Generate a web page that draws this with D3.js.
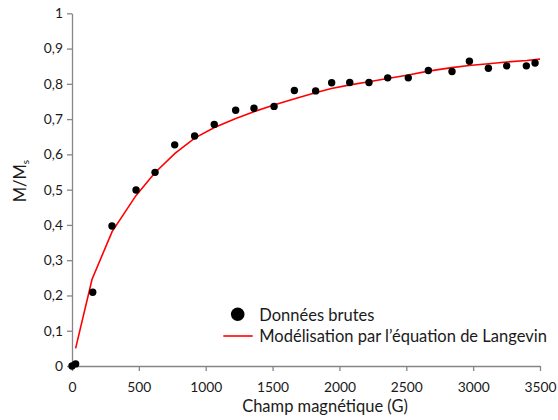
<!DOCTYPE html>
<html>
<head>
<meta charset="utf-8">
<script src="https://cdn.jsdelivr.net/npm/d3@7"></script>
<style>
  html, body { margin: 0; padding: 0; background: #fff; }
  svg { display: block; }
  text { font-family: "Lato", "Open Sans", sans-serif; fill: #1a1a1a; }
</style>
</head>
<body>
<svg id="chart" width="558" height="420"></svg>
<script>
// Raw data (Données brutes)
const dataX = [0, 27, 155, 299, 479, 621, 768, 917, 1064, 1224, 1361, 1511, 1663, 1822, 1942, 2077, 2221, 2361, 2515, 2665, 2842, 2972, 3114, 3251, 3398, 3463];
const dataY = [0, 0.006, 0.209, 0.397, 0.499, 0.549, 0.627, 0.652, 0.685, 0.725, 0.731, 0.736, 0.781, 0.780, 0.803, 0.804, 0.804, 0.817, 0.817, 0.838, 0.835, 0.864, 0.844, 0.851, 0.851, 0.859];

// Model curve (Modélisation par l'équation de Langevin)
const modelX = [27, 150, 300, 478, 620, 770, 920, 1065, 1225, 1360, 1510, 1665, 1820, 1940, 2080, 2220, 2360, 2515, 2665, 2840, 2970, 3115, 3250, 3400, 3500];
const modelY = [0.050, 0.246, 0.381, 0.483, 0.548, 0.603, 0.647, 0.676, 0.702, 0.721, 0.740, 0.758, 0.775, 0.787, 0.797, 0.806, 0.815, 0.825, 0.836, 0.846, 0.852, 0.857, 0.862, 0.866, 0.870];

// Ticks
const xTicks = [0, 500, 1000, 1500, 2000, 2500, 3000, 3500];
const yTicks = [0, 0.1, 0.2, 0.3, 0.4, 0.5, 0.6, 0.7, 0.8, 0.9, 1];
const yTickLabels = ["0", "0,1", "0,2", "0,3", "0,4", "0,5", "0,6", "0,7", "0,8", "0,9", "1"];

const seriesNames = ["Données brutes", "Modélisation par l\u2019équation de Langevin"];
const xTitle = "Champ magnétique (G)";

const svg = d3.select("#chart");
const x = d3.scaleLinear().domain([0, 3500]).range([72, 540]);
const y = d3.scaleLinear().domain([0, 1]).range([366, 13.3]);
const axisColor = "#868686";

// X axis
const gx = svg.append("g").attr("transform", `translate(0,${y(0)})`)
  .call(d3.axisBottom(x).tickValues(xTicks).tickSize(5).tickSizeOuter(0).tickPadding(11).tickFormat(d3.format("d")));
// Y axis
const gy = svg.append("g").attr("transform", `translate(${x(0)},0)`)
  .call(d3.axisLeft(y).tickValues(yTicks).tickSize(5).tickSizeOuter(0).tickPadding(4)
    .tickFormat((d, i) => yTickLabels[i]));

[gx, gy].forEach(g => {
  g.select(".domain").attr("stroke", axisColor).attr("stroke-width", 1.3);
  g.selectAll(".tick line").attr("stroke", axisColor).attr("stroke-width", 1.3);
  g.selectAll(".tick text").attr("font-size", 13.8).attr("font-family", "Lato, 'Open Sans', sans-serif").attr("fill", "#1a1a1a");
});

// Model line
const modelPts = modelX.map((v, i) => [v, modelY[i]]);
svg.append("path")
  .datum(modelPts)
  .attr("fill", "none")
  .attr("stroke", "#ff0000")
  .attr("stroke-width", 1.6)
  .attr("d", d3.line().x(d => x(d[0])).y(d => y(d[1])));

// Data points
const dataPts = dataX.map((v, i) => [v, dataY[i]]);
svg.append("g").selectAll("circle")
  .data(dataPts)
  .join("circle")
  .attr("cx", d => x(d[0]))
  .attr("cy", d => y(d[1]))
  .attr("r", 3.7)
  .attr("fill", "#000");

// Legend
const lg = svg.append("g");
lg.append("circle").attr("cx", 237.7).attr("cy", 314.3).attr("r", 6.8).attr("fill", "#000");
lg.append("text").attr("x", 259.3).attr("y", 320.5).attr("font-size", 16.5).text(seriesNames[0]);
lg.append("line").attr("x1", 223.3).attr("x2", 252.7).attr("y1", 336).attr("y2", 336)
  .attr("stroke", "#ff0000").attr("stroke-width", 1.6);
lg.append("text").attr("x", 259.3).attr("y", 341.5).attr("font-size", 16.5).text(seriesNames[1]);

// Axis titles
svg.append("text").attr("x", 325).attr("y", 411.5).attr("text-anchor", "middle")
  .attr("font-size", 16.5).text(xTitle);

const yt = svg.append("text")
  .attr("transform", "translate(26,181) rotate(-90)")
  .attr("text-anchor", "middle")
  .attr("font-size", 16.5);
yt.append("tspan").text("M/M");
yt.append("tspan").attr("font-size", 10).attr("dy", 3).text("s");
</script>
</body>
</html>
